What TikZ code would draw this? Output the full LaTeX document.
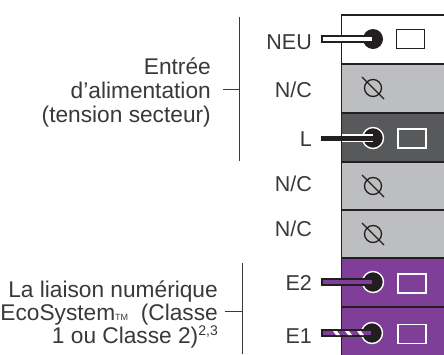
\documentclass[tikz,border=0pt]{standalone}
\usepackage{fontspec}
\setmainfont{Liberation Sans}
\definecolor{ink}{HTML}{231F20}
\definecolor{txt}{HTML}{3A3839}
\definecolor{ngray}{HTML}{BCBEC0}
\definecolor{dgray}{HTML}{58595B}
\definecolor{purp}{HTML}{7F3F98}
\tikzset{
  rowbox/.style={draw=ink,line width=1.1pt},
  lab/.style={font=\fontsize{21.5}{24}\selectfont,text=txt,inner sep=0pt,anchor=base east},
  note/.style={font=\fontsize{22.7}{24}\selectfont,text=txt,inner sep=0pt,anchor=base east,align=right},
  brk/.style={draw=txt,line width=1pt},
  dot/.style={circle,fill=ink,inner sep=0pt,minimum size=20pt},
  ringdot/.style={circle,fill=ink,draw=white,line width=1.4pt,inner sep=0pt,minimum size=21pt},
  port/.style={rectangle,fill=none,line width=1.3pt,inner sep=0pt,minimum width=28pt,minimum height=19pt},
  nc/.style={circle,draw=ink,line width=1.3pt,inner sep=0pt,minimum size=17pt},
}
\begin{document}
\begin{tikzpicture}[x=1pt,y=-1pt]
\useasboundingbox (0,0) rectangle (444,354);
% rows
\filldraw[rowbox,fill=white]  (341.5,15) rectangle (446,64);
\filldraw[rowbox,fill=ngray]  (341.5,64) rectangle (446,113);
\filldraw[rowbox,fill=dgray]  (341.5,113) rectangle (446,162);
\filldraw[rowbox,fill=ngray]  (341.5,162) rectangle (446,210);
\filldraw[rowbox,fill=ngray]  (341.5,210) rectangle (446,258);
\filldraw[rowbox,fill=purp]   (341.5,258) rectangle (446,307);
\filldraw[rowbox,fill=purp]   (341.5,307) rectangle (446,358);
% labels
\node[lab] (neu) at (312,49) {NEU};
\node[lab] (nc1) at (312,97) {N/C};
\node[lab] (l)   at (312,146) {L};
\node[lab] (nc2) at (312,191) {N/C};
\node[lab] (nc3) at (312,236) {N/C};
\node[lab] (e2)  at (312,290) {E2};
\node[lab] (e1)  at (312,343) {E1};
% terminals
\node[dot] (t1) at (373,39) {};
\node[ringdot] (t3) at (373,138) {};
\node[ringdot] (t6) at (373,282) {};
\node[ringdot] (t7) at (372,333) {};
\node[port,draw=ink]   (p1) at (410.5,39) {};
\node[port,draw=white] (p3) at (412,138.5) {};
\node[port,draw=white] (p6) at (412,283.5) {};
\node[port,draw=white] (p7) at (412,334) {};
% not connected
\foreach \n/\y in {a/88,b/186,c/234}{
  \node[nc] (nc\n) at (373,\y) {};
  \draw[ink,line width=1.3pt] ([shift={(-11,-11)}]nc\n.center) -- ([shift={(11,11)}]nc\n.center);
}
% wires
\coordinate (w1) at (321,39);  \coordinate (w3) at (321,138);
\coordinate (w6) at (321,282); \coordinate (w7) at (321,333);
\draw[ink,line width=7.5pt] (w1) -- (t1.center);
\draw[white,line width=4pt] ([xshift=1.5pt]w1) -- ([xshift=-1.5pt]t1.center);
\draw[white,line width=7.5pt] (341.5,138) -- (t3.center);
\draw[ink,line width=5pt] (w3) -- (t3.center);
\draw[ink,line width=7.5pt] (w6) -- (t6.center);
\draw[purp,line width=4pt] ([xshift=1.5pt]w6) -- ([xshift=-1.5pt]t6.center);
\draw[ink,line width=7.5pt] (w7) -- (t7.center);
\draw[purp,line width=4pt] ([xshift=1.5pt]w7) -- ([xshift=-1.5pt]t7.center);
\foreach \x in {333,345,357}{
  \fill[white] (\x,331) -- (\x+4,331) -- (\x+7,335) -- (\x+3,335) -- cycle;
}
% side notes
\node[note] (n1) at (211,74) {Entrée};
\node[note] (n2) at (211,98) {d’alimentation};
\node[note] (n3) at (211,122) {(tension secteur)};
\node[note] (n4) at (218,297) {La liaison numérique};
\node[note] (n5) at (218,320) {EcoSystem{\fontsize{9}{9}\selectfont TM}\ \ (Classe};
\node[note] (n6) at (218,343) {1 ou Classe 2)\raisebox{8pt}{\fontsize{14}{14}\selectfont 2,3}};
% brackets
\coordinate (b1a) at (239,17); \coordinate (b1b) at (239,161);
\coordinate (b1c) at (223,89); \coordinate (b1d) at (239,89);
\coordinate (b2a) at (242,263); \coordinate (b2b) at (242,354);
\coordinate (b2c) at (225,311); \coordinate (b2d) at (242,311);
\draw[brk] (b1a) -- (b1b);
\draw[brk] (b1c) -- (b1d);
\draw[brk] (b2a) -- (b2b);
\draw[brk] (b2c) -- (b2d);
\end{tikzpicture}
\end{document}
